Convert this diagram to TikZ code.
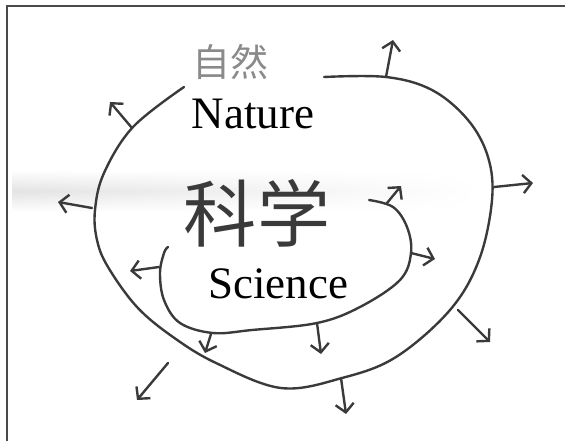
\documentclass[tikz,border=0pt]{standalone}
\usepackage{fontspec}
\setmainfont{Liberation Serif}
\newfontfamily\cjk{Noto Sans CJK SC}
\usetikzlibrary{arrows.meta, fadings}
\definecolor{cInk}{HTML}{3A3A3A}
\definecolor{cPencil}{HTML}{8A8A8A}
\definecolor{cFrame}{HTML}{4A4A4A}

\begin{document}
\begin{tikzpicture}[
    x=0.025cm, y=-0.025cm,
    ink/.style={draw=cInk, line width=1.7pt, line cap=round, line join=round},
    arr/.style={ink, -{Straight Barb[length=6pt, width=13pt, line width=1.7pt]}},
    lbl/.style={font=\fontsize{32}{36}\selectfont, text=black, anchor=base, inner sep=0pt},
    hand/.style={text=cInk, inner sep=0pt},
]
\useasboundingbox (0,0) rectangle (565,441);

% ================================================================
%  Frame and smudge
% ================================================================
\draw[cFrame, line width=1.5pt] (7,441) -- (7,6) -- (565,6);
\shade[top color=white, bottom color=white, middle color=black!11,
       path fading=east] (12,170) rectangle (480,212);

% ================================================================
%  Outer loop: Nature
% ================================================================
\draw[ink] plot[smooth, tension=0.6] coordinates {
    (184,87) (133,127) (104,173) (95,210) (97,240) (108,267) (137,307)
    (173,337) (216,363) (281,388) (342,378) (396,357) (450,310)
    (479,260) (492,200) (488,157) (468,120) (432,90) (386,77) (324,77)};

\coordinate (oTopS)   at (386,77);   \coordinate (oTopE)   at (393,40);
\coordinate (oUlS)    at (132,128);  \coordinate (oUlE)    at (110,102);
\coordinate (oLeftS)  at (92,208);   \coordinate (oLeftE)  at (58,202);
\coordinate (oRightS) at (494,187);  \coordinate (oRightE) at (533,183);
\coordinate (oLrS)    at (458,310);  \coordinate (oLrE)    at (490,342);
\coordinate (oBotS)   at (341,378);  \coordinate (oBotE)   at (346,414);
\coordinate (oLlS)    at (168,363);  \coordinate (oLlE)    at (137,400);

\foreach \a in {oTop, oUl, oLeft, oRight, oLr, oBot, oLl}
    \draw[arr] (\a S) -- (\a E);

% ================================================================
%  Inner loop: Science
% ================================================================
\draw[ink] plot[smooth, tension=0.6] coordinates {
    (369,200) (393,207) (407,227) (411,253) (400,280) (360,307)
    (317,323) (252,330) (213,333) (180,323) (164,300) (160,273)
    (164,253) (168,247)};

\coordinate (iUrS)    at (387,203);  \coordinate (iUrE)    at (401,186);
\coordinate (iRightS) at (411,253);  \coordinate (iRightE) at (435,259);
\coordinate (iBotS)   at (317,323);  \coordinate (iBotE)   at (321,354);
\coordinate (iBlS)    at (211,334);  \coordinate (iBlE)    at (205,353);
\coordinate (iLeftS)  at (159,267);  \coordinate (iLeftE)  at (130,271);

\foreach \a in {iUr, iRight, iBot, iBl, iLeft}
    \draw[arr] (\a S) -- (\a E);

% ================================================================
%  Labels
% ================================================================
\node[hand, text=cPencil, font=\cjk\fontsize{27}{30}\selectfont] (ziran) at (230,62) {自然};
\node[lbl] (nature) at (253,128) {Nature};

\node[hand, font=\cjk\fontsize{52}{56}\selectfont] (kexue) at (257,213) {科学};
\node[lbl] (science) at (278,298) {Science};

\end{tikzpicture}
\end{document}
